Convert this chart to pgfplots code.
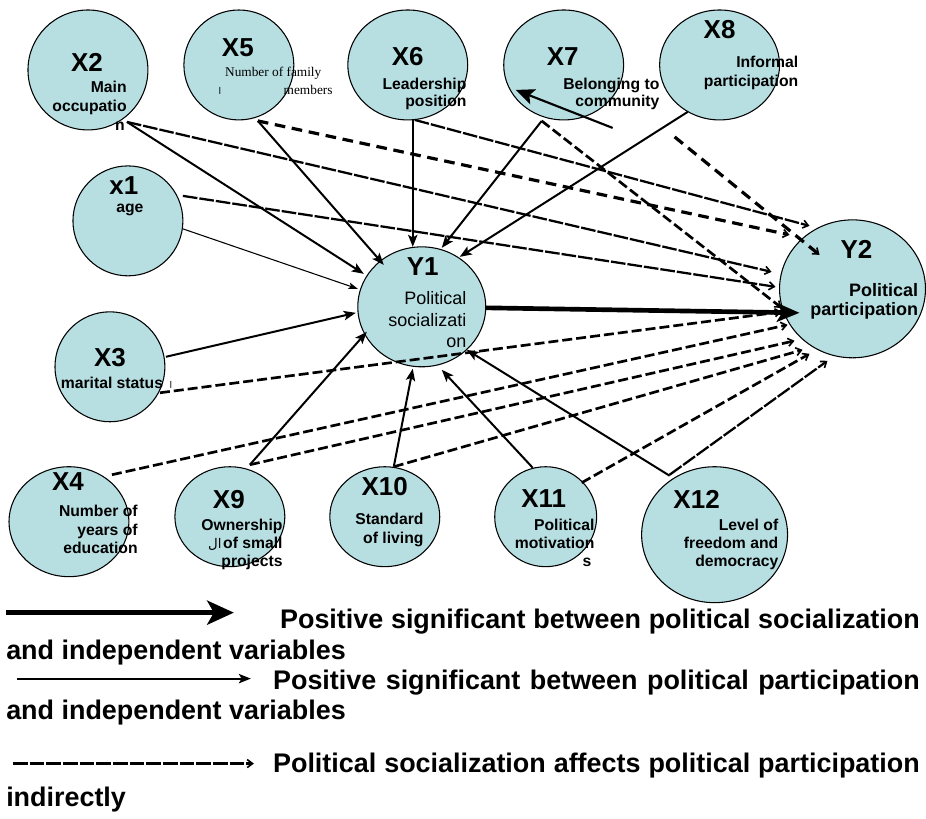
\documentclass[border=0pt]{standalone}
\usepackage{pgfplots}
\pgfplotsset{compat=1.18}
\usetikzlibrary{arrows.meta}
\usepackage{fontspec}
\setmainfont{Liberation Sans}
\newfontfamily\tnr{Liberation Serif}
\newfontfamily\arabicfont[Script=Arabic]{DejaVu Sans}
\TeXXeTstate=1
\definecolor{nodefill}{RGB}{183,223,226}
\tikzset{
  big/.style={anchor=center, inner sep=0pt, font=\fontsize{19.5}{22}\selectfont\bfseries},
  sm/.style={anchor=base east, inner sep=0pt, font=\fontsize{11.8}{14}\selectfont\bfseries},
  md/.style={anchor=base east, inner sep=0pt, font=\fontsize{13.5}{16}\selectfont\bfseries},
  leg/.style={anchor=base west, inner sep=0pt, font=\fontsize{20.2}{23}\selectfont\bfseries},
}
\pgfplotsset{
  fg/.style={on layer=axis foreground},
  solidarr/.style={fg, black, line width=1.5pt, -{Stealth[length=9pt,width=7pt,inset=2pt]}},
  thinarr/.style={fg, black, line width=0.8pt, -{Stealth[length=7pt,width=5pt,inset=1.5pt]}},
  thickdash/.style={fg, black, line width=2.4pt, dash pattern=on 8pt off 5pt, -{Straight Barb[length=4pt,width=6pt,line width=1.2pt]}},
  meddash/.style={fg, black, line width=2pt, dash pattern=on 7.5pt off 3pt, -{Straight Barb[length=4pt,width=6pt,line width=1.2pt]}},
  wavydash/.style={fg, black, line width=1.7pt, dash pattern=on 11pt off 1.5pt, -{Straight Barb[length=4pt,width=6pt,line width=1.2pt]}},
}
\pgfplotstableread{
x y rx ry
88 70 60 60
239 65 55 55
408 65 60 55
564 65 60 55
720 65 60 55
128 221 55 55
422 307 64 60
853 289 73 69
110 367 55 55
69 522 60 55
230 517 55 50
385 517 55 50
546 517 51 50
715 535 73 68
}\ellipses
\begin{document}
\begin{tikzpicture}
\begin{axis}[x=0.75pt, y=0.75pt, y dir=reverse, xmin=0, xmax=926, ymin=0, ymax=819,
  hide axis, clip=false, enlargelimits=false, set layers]
\addplot[draw=none, forget plot] coordinates {(0,0) (926,819)};
% ellipses
\addplot[only marks, scatter, forget plot, mark=*, mark size=0pt,
  mark options={draw=none, fill=none}, on layer=axis background,
  visualization depends on={\thisrow{rx}\as\rx},
  visualization depends on={\thisrow{ry}\as\ry},
  scatter/@pre marker code/.code={\path[fill=nodefill, draw=black, line width=0.8pt] (0,0) ellipse [x radius={0.75pt*\rx}, y radius={0.75pt*\ry}];},
  scatter/@post marker code/.code={}] table[x=x, y=y] {\ellipses};
% solid arrows to Y1
\addplot[solidarr] coordinates {(127,122) (364,274)};
\addplot[solidarr] coordinates {(258,121) (384,265)};
\addplot[solidarr] coordinates {(413,120) (413,247)};
\addplot[solidarr] coordinates {(542,121) (442,248)};
\addplot[solidarr] coordinates {(688,112) (460,257)};
\addplot[thinarr] coordinates {(183,229) (358,289)};
\addplot[solidarr] coordinates {(166,357) (356,313)};
\addplot[solidarr] coordinates {(250,465) (367,332)};
\addplot[solidarr] coordinates {(394,467) (413,369)};
\addplot[solidarr] coordinates {(533,468) (442,370)};
\addplot[solidarr] coordinates {(670,476) (467,350)};
\addplot[fg, black, line width=1.6pt, -{Stealth[length=14pt,width=12pt,inset=3pt]}] coordinates {(613,128) (516,90)};
% dashed (indirect) to Y2
\addplot[wavydash] coordinates {(127,122) (772,272)};
\addplot[thickdash] coordinates {(258,121) (790,235)};
\addplot[wavydash] coordinates {(415,120) (810,226)};
\addplot[meddash] coordinates {(542,121) (782,308)};
\addplot[thickdash] coordinates {(675,137) (820,255)};
\addplot[wavydash] coordinates {(183,196) (776,287)};
\addplot[meddash] coordinates {(160,393) (782,312)};
\addplot[meddash] coordinates {(112,475) (788,325)};
\addplot[meddash] coordinates {(250,465) (795,341)};
\addplot[meddash] coordinates {(394,467) (803,350)};
\addplot[meddash] coordinates {(582,483) (810,354)};
\addplot[wavydash] coordinates {(670,475) (828,361)};
% thick Y1 -> Y2
\addplot[fg, black, line width=3.5pt, -{Stealth[length=17pt,width=14pt,inset=4pt]}] coordinates {(486,308) (800,313)};
% legend arrows
\addplot[fg, black, line width=3.8pt, -{Stealth[length=20pt,width=18pt,inset=5pt]}] coordinates {(6,613) (234,613)};
\addplot[fg, black, line width=1.5pt, -{Stealth[length=9pt,width=7pt,inset=2pt]}] coordinates {(17,679) (251,679)};
\addplot[fg, black, line width=1.7pt, dash pattern=on 11pt off 1.5pt, -{Straight Barb[length=4pt,width=6pt,line width=1.2pt]}] coordinates {(13,764) (254,764)};

\begin{pgfonlayer}{axis foreground}
% labels
\node[big] at (axis cs:87,62) {X2};
\node[sm] at (axis cs:127,93) {Main};
\node[sm] at (axis cs:127,112) {occupatio};
\node[sm, anchor=base west] at (axis cs:115,131) {n};
\node[big] at (axis cs:238,48) {X5};
\node[anchor=base west, inner sep=0pt, font=\fontsize{10}{12}\selectfont\tnr] at (axis cs:225,77) {Number of family};
\node[anchor=base east, inner sep=0pt, font=\fontsize{10}{12}\selectfont\tnr] at (axis cs:333,95) {members};
\node[anchor=base, inner sep=0pt, font=\fontsize{7}{8}\selectfont\arabicfont] at (axis cs:220,95) {\beginR ا\endR};
\node[big] at (axis cs:408,57) {X6};
\node[sm] at (axis cs:467,90) {Leadership};
\node[sm] at (axis cs:467,107) {position};
\node[big] at (axis cs:563,57) {X7};
\node[sm] at (axis cs:660,90) {Belonging to};
\node[sm] at (axis cs:660,107) {community};
\node[big] at (axis cs:720,30) {X8};
\node[sm] at (axis cs:799,68) {Informal};
\node[sm] at (axis cs:799,87) {participation};
\node[big] at (axis cs:124,186) {x1};
\node[anchor=base, inner sep=0pt, font=\fontsize{11.8}{14}\selectfont\bfseries] at (axis cs:130,213) {age};
\node[big] at (axis cs:423,267) {Y1};
\node[anchor=base east, inner sep=0pt, font=\fontsize{13.5}{16}\selectfont] at (axis cs:467,305) {Political};
\node[anchor=base east, inner sep=0pt, font=\fontsize{13.5}{16}\selectfont] at (axis cs:467,327) {socializati};
\node[anchor=base east, inner sep=0pt, font=\fontsize{13.5}{16}\selectfont] at (axis cs:467,348) {on};
\node[big] at (axis cs:857,250) {Y2};
\node[md] at (axis cs:919,297) {Political};
\node[md] at (axis cs:919,316) {participation};
\node[big] at (axis cs:110,358) {X3};
\node[anchor=base, inner sep=0pt, font=\fontsize{11.8}{14}\selectfont\bfseries] at (axis cs:112,389) {marital status};
\node[anchor=base, inner sep=0pt, font=\fontsize{7}{8}\selectfont\arabicfont] at (axis cs:171,389) {\beginR ا\endR};
\node[big] at (axis cs:68,482) {X4};
\node[sm] at (axis cs:138,517) {Number of};
\node[sm] at (axis cs:138,536) {years of};
\node[sm] at (axis cs:138,554) {education};
\node[big] at (axis cs:229,500) {X9};
\node[sm] at (axis cs:283,531) {Ownership};
\node[sm] at (axis cs:283,549) {of small};
\node[anchor=base east, inner sep=0pt, font=\fontsize{10}{12}\selectfont\arabicfont] at (axis cs:222,549) {\beginR ال\endR};
\node[sm] at (axis cs:283,567) {projects};
\node[big] at (axis cs:385,487) {X10};
\node[sm] at (axis cs:424,525) {Standard};
\node[sm] at (axis cs:424,544) {of living};
\node[big] at (axis cs:544,499) {X11};
\node[sm] at (axis cs:595,531) {Political};
\node[sm] at (axis cs:595,549) {motivation};
\node[sm] at (axis cs:592,567) {s};
\node[big] at (axis cs:697,500) {X12};
\node[sm] at (axis cs:779,531) {Level of};
\node[sm] at (axis cs:779,549) {freedom and};
\node[sm] at (axis cs:779,567) {democracy};

% legend text
\node[leg] at (axis cs:280,629) {\makebox[480pt][s]{Positive significant between political socialization}};
\node[leg] at (axis cs:6,660) {and independent variables};
\node[leg] at (axis cs:273,690) {\makebox[485.25pt][s]{Positive significant between political participation}};
\node[leg] at (axis cs:6,720) {and independent variables};
\node[leg] at (axis cs:273,773) {\makebox[485.25pt][s]{Political socialization affects political participation}};
\node[leg] at (axis cs:6,807) {indirectly};
\end{pgfonlayer}
\end{axis}
\end{tikzpicture}
\end{document}
